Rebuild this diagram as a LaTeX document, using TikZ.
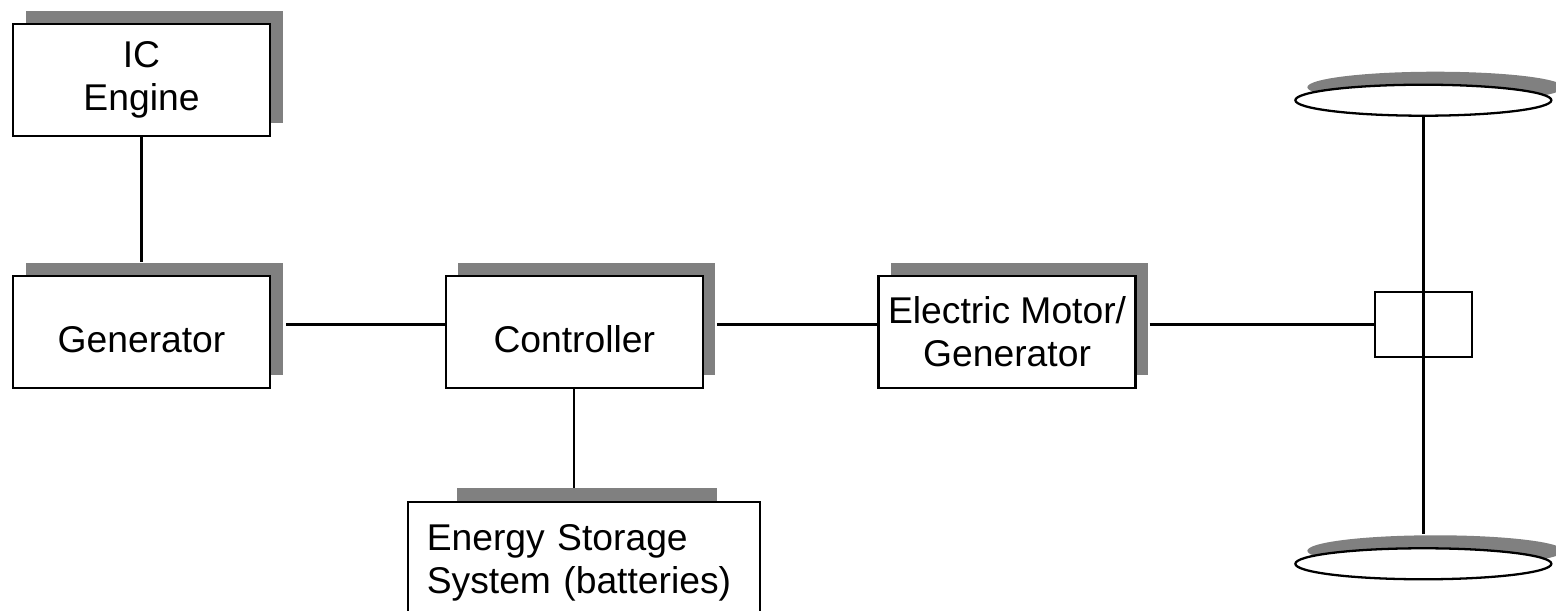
\documentclass[tikz,border=0pt]{standalone}
\usepackage{fontspec}
\setmainfont{Liberation Sans}
\usepackage{xcolor}
\usepackage{tikz}
\usetikzlibrary{shapes.geometric, positioning, shadows, backgrounds, calc}
\definecolor{shadowgray}{HTML}{808080}

\begin{document}
\begin{tikzpicture}[
    node distance=0.6cm,
    box/.style={rectangle, draw=black, fill=white, line width=1.3pt, minimum width=5.14cm, minimum height=2.24cm, align=center, font=\fontsize{21.2}{24.5}\selectfont},
    block/.style={box, drop shadow={shadow xshift=0.25cm, shadow yshift=0.26cm, fill=shadowgray, opacity=1}},
    lowtext/.style={text height=0.82cm, text depth=0pt},
    wheel/.style={ellipse, draw=black, fill=white, line width=1.3pt, minimum width=5.12cm, minimum height=0.62cm, inner sep=0pt, drop shadow={shadow xshift=0.24cm, shadow yshift=0.26cm, fill=shadowgray, opacity=1}},
    hubbox/.style={rectangle, draw=black, line width=1.3pt, minimum width=1.94cm, minimum height=1.30cm, inner sep=0pt},
    link/.style={line width=1.3pt}
]
    \useasboundingbox (0,0) rectangle (31.12,-12.22);
    \clip (0,0) rectangle (31.12,-12.22);

    % Power chain
    \node[block, lowtext] (gen) at (2.83,-6.64) {Generator};
    \node[block, above=2.82cm of gen, yshift=-0.06cm] (ic) {IC\\Engine};
    \node[block, lowtext, right=3.47cm of gen] (ctrl) {Controller};
    \node[block, right=3.47cm of ctrl] (motor) {Electric Motor/\\Generator};

    % Axle and wheels
    \node[hubbox, right=4.74cm of motor, yshift=0.15cm] (hub) {};
    \node[wheel, above=3.48cm of hub] (wheeltop) {};
    \node[wheel, below=3.78cm of hub] (wheelbot) {};

    % Storage
    \node[box, anchor=north west, minimum width=7.04cm, minimum height=2.44cm, text width=6.28cm, align=left] (energy) at ([xshift=-0.76cm, yshift=-2.24cm]ctrl.south west) {Energy Storage\\System (batteries)};
    \begin{scope}[on background layer]
        \fill[shadowgray] ($(ctrl.west |- energy.north)+(0.24,0.26)$) rectangle ($(ctrl.east |- energy.center)+(0.26,0)$);
    \end{scope}

    % Connections
    \draw[link] (ic.south) -- ($(gen.north)+(0,0.26)$);
    \draw[link] ($(gen.east |- hub.west)+(0.3,0)$) -- (ctrl.west |- hub.west);
    \draw[link] ($(ctrl.east |- hub.west)+(0.26,0)$) -- (motor.west |- hub.west);
    \draw[link] ($(motor.east |- hub.west)+(0.26,0)$) -- (hub.west);
    \draw[link] (ctrl.south) -- ($(ctrl.south |- energy.north)+(0,0.26)$);
    \draw[link] (wheeltop.south) -- ($(wheelbot.north)+(0,0.26)$);

\end{tikzpicture}
\end{document}
